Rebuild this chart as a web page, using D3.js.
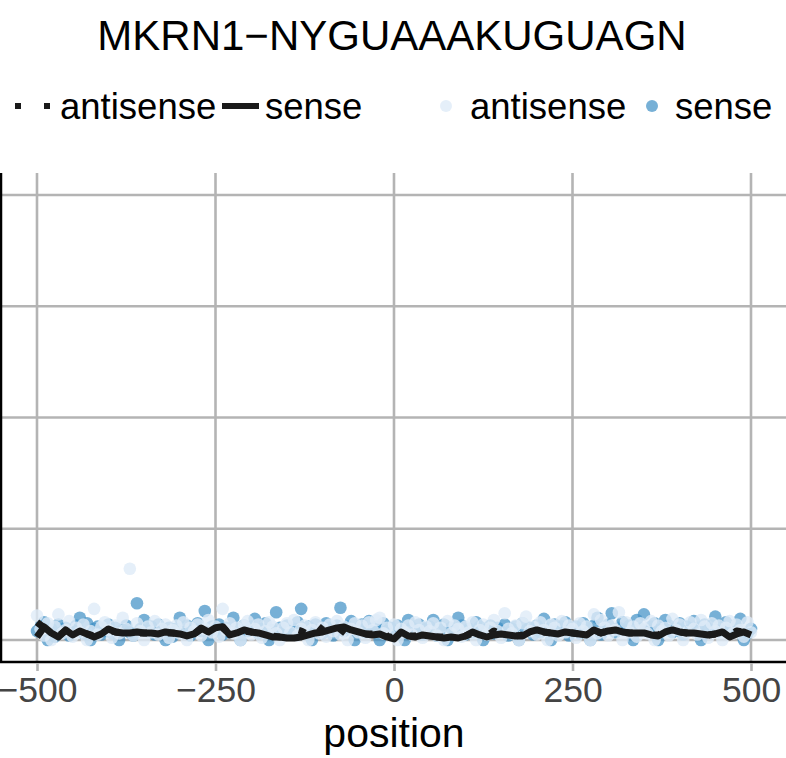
<!DOCTYPE html>
<html>
<head>
<meta charset="utf-8">
<script src="https://cdn.jsdelivr.net/npm/d3@7"></script>
<style>
  html, body { margin: 0; padding: 0; background: #ffffff; }
  svg { display: block; font-family: "Liberation Sans", Arial, Helvetica, sans-serif; }
</style>
</head>
<body>
<svg id="chart" width="786" height="758"></svg>
<script>
// ---- data ----
const title = "MKRN1\u2212NYGUAAAKUGUAGN";
const strands = ["antisense", "sense"];
const xTicks = [-500, -250, 0, 250, 500];
const yTicks = [0, 1, 2, 3, 4];

// per-position scores, positions -500..500 every 5 nt
const pointStep = 5;
const antisenseScores = [
  0.22, 0.10, 0.04, 0.15, 0.00, 0.12, 0.23, 0.06, 0.09, 0.17,
  0.03, 0.11, 0.07, 0.14, 0.00, 0.08, 0.28, 0.05, 0.12, 0.16,
  0.09, 0.02, 0.13, 0.06, 0.20, 0.10, 0.64, 0.04, 0.15, 0.08,
  0.00, 0.12, 0.07, 0.17, 0.05, 0.10, 0.14, 0.02, 0.09, 0.13,
  0.06, 0.16, 0.00, 0.11, 0.08, 0.14, 0.04, 0.10, 0.18, 0.07,
  0.12, 0.03, 0.28, 0.09, 0.15, 0.06, 0.11, 0.00, 0.13, 0.17,
  0.05, 0.10, 0.14, 0.02, 0.08, 0.16, 0.12, 0.06, 0.00, 0.11,
  0.15, 0.07, 0.18, 0.04, 0.10, 0.13, 0.00, 0.09, 0.16, 0.06,
  0.11, 0.03, 0.14, 0.08, 0.17, 0.05, 0.12, 0.00, 0.10, 0.15,
  0.07, 0.13, 0.02, 0.16, 0.09, 0.18, 0.20, 0.06, 0.11, 0.04,
  0.14, 0.00, 0.10, 0.07, 0.13, 0.05, 0.16, 0.09, 0.02, 0.12,
  0.08, 0.15, 0.04, 0.11, 0.00, 0.17, 0.06, 0.13, 0.10, 0.03,
  0.12, 0.07, 0.16, 0.00, 0.09, 0.14, 0.05, 0.11, 0.18, 0.08,
  0.02, 0.24, 0.10, 0.06, 0.13, 0.00, 0.15, 0.21, 0.08, 0.12,
  0.05, 0.16, 0.09, 0.00, 0.14, 0.11, 0.04, 0.17, 0.07, 0.13,
  0.10, 0.02, 0.15, 0.08, 0.12, 0.00, 0.23, 0.06, 0.18, 0.11,
  0.04, 0.13, 0.09, 0.25, 0.00, 0.16, 0.07, 0.12, 0.03, 0.15,
  0.10, 0.06, 0.17, 0.00, 0.13, 0.08, 0.11, 0.04, 0.19, 0.09,
  0.14, 0.00, 0.07, 0.16, 0.10, 0.05, 0.18, 0.12, 0.02, 0.15,
  0.08, 0.13, 0.00, 0.11, 0.17, 0.06, 0.14, 0.09, 0.03, 0.16,
  0.07
];
const senseScores = [
  0.08, 0.12, 0.16, 0.00, 0.10, 0.03, 0.14, 0.07, 0.11, 0.04,
  0.09, 0.13, 0.20, 0.06, 0.15, 0.00, 0.10, 0.12, 0.05, 0.08,
  0.14, 0.06, 0.11, 0.00, 0.09, 0.13, 0.07, 0.04, 0.33, 0.10,
  0.18, 0.08, 0.12, 0.05, 0.14, 0.09, 0.00, 0.11, 0.03, 0.10,
  0.20, 0.07, 0.13, 0.04, 0.10, 0.15, 0.08, 0.26, 0.00, 0.12,
  0.09, 0.14, 0.05, 0.11, 0.07, 0.20, 0.10, 0.00, 0.13, 0.08,
  0.12, 0.19, 0.06, 0.10, 0.15, 0.00, 0.09, 0.25, 0.11, 0.07,
  0.13, 0.05, 0.10, 0.16, 0.28, 0.08, 0.12, 0.00, 0.14, 0.09,
  0.06, 0.15, 0.11, 0.04, 0.13, 0.29, 0.08, 0.12, 0.17, 0.00,
  0.10, 0.14, 0.07, 0.17, 0.09, 0.12, 0.00, 0.15, 0.08, 0.11,
  0.06, 0.13, 0.09, 0.00, 0.18, 0.11, 0.07, 0.14, 0.05, 0.10,
  0.12, 0.18, 0.04, 0.09, 0.14, 0.00, 0.11, 0.08, 0.20, 0.13,
  0.05, 0.10, 0.07, 0.16, 0.12, 0.00, 0.09, 0.13, 0.06, 0.11,
  0.08, 0.14, 0.04, 0.10, 0.12, 0.00, 0.15, 0.09, 0.11, 0.05,
  0.13, 0.07, 0.19, 0.10, 0.00, 0.14, 0.08, 0.12, 0.16, 0.04,
  0.09, 0.12, 0.06, 0.15, 0.11, 0.00, 0.13, 0.20, 0.05, 0.10,
  0.14, 0.24, 0.07, 0.11, 0.16, 0.09, 0.13, 0.00, 0.18, 0.10,
  0.23, 0.08, 0.12, 0.15, 0.00, 0.10, 0.18, 0.13, 0.07, 0.11,
  0.15, 0.05, 0.12, 0.09, 0.17, 0.11, 0.00, 0.14, 0.10, 0.13,
  0.21, 0.08, 0.12, 0.16, 0.07, 0.11, 0.14, 0.19, 0.00, 0.06,
  0.10
];

// smoothed profile, positions -500..500 every 10 nt
const lineStep = 10;
const senseProfile = [
  0.027, 0.117, 0.063, 0.027, 0.090, 0.045, 0.081, 0.054, 0.027, 0.054,
  0.099, 0.072, 0.063, 0.063, 0.072, 0.063, 0.063, 0.054, 0.072, 0.063,
  0.054, 0.036, 0.054, 0.108, 0.072, 0.110, 0.120, 0.045, 0.063, 0.090,
  0.072, 0.063, 0.045, 0.027, 0.027, 0.018, 0.018, 0.027, 0.045, 0.063,
  0.072, 0.090, 0.108, 0.117, 0.090, 0.072, 0.054, 0.045, 0.054, 0.027,
  0.009, 0.072, 0.036, 0.027, 0.045, 0.036, 0.027, 0.018, 0.027, 0.018,
  0.036, 0.072, 0.045, 0.027, 0.045, 0.054, 0.045, 0.036, 0.036, 0.072,
  0.090, 0.072, 0.063, 0.054, 0.072, 0.063, 0.054, 0.045, 0.090, 0.063,
  0.081, 0.090, 0.072, 0.063, 0.063, 0.063, 0.045, 0.036, 0.072, 0.090,
  0.072, 0.063, 0.063, 0.054, 0.045, 0.054, 0.072, 0.027, 0.054, 0.072,
  0.045
];
const antisenseProfile = [
  0.160, 0.110, 0.063, 0.036, 0.081, 0.054, 0.072, 0.054, 0.036, 0.054,
  0.090, 0.072, 0.063, 0.072, 0.063, 0.063, 0.063, 0.054, 0.063, 0.063,
  0.054, 0.045, 0.054, 0.099, 0.072, 0.100, 0.110, 0.054, 0.063, 0.081,
  0.072, 0.063, 0.045, 0.036, 0.027, 0.045, 0.100, 0.081, 0.045, 0.144,
  0.090, 0.081, 0.018, 0.099, 0.090, 0.072, 0.054, 0.054, 0.126, 0.036,
  0.018, 0.063, 0.036, 0.036, 0.072, 0.036, 0.027, 0.027, 0.027, 0.018,
  0.036, 0.063, 0.045, 0.036, 0.081, 0.054, 0.045, 0.036, 0.045, 0.063,
  0.090, 0.072, 0.063, 0.063, 0.072, 0.063, 0.054, 0.054, 0.081, 0.063,
  0.081, 0.081, 0.072, 0.063, 0.063, 0.054, 0.045, 0.045, 0.072, 0.081,
  0.072, 0.063, 0.054, 0.054, 0.045, 0.054, 0.063, 0.036, 0.081, 0.072,
  0.054
];

// ---- styling ----
const pointColor = { antisense: "#deebf7", sense: "#4292c6" };
const pointOpacity = { antisense: 0.8, sense: 0.72 };
const gridColor = "#b4b4b4";
const dotDash = "7,21";

const svg = d3.select("#chart");
svg.append("rect").attr("width", 786).attr("height", 758).attr("fill", "#ffffff");

const panel = { left: 1, top: 173, right: 800, bottom: 662 };
const x = d3.scaleLinear().domain([-500, 500]).range([37, 751]);
const y = d3.scaleLinear().domain([0, 4]).range([640, 195]);

const toPoints = (arr, step, strand) =>
  arr.map((v, i) => ({ pos: -500 + i * step, value: v, strand }));

// sense first, antisense drawn over it
const allPts = toPoints(senseScores, pointStep, "sense")
  .concat(toPoints(antisenseScores, pointStep, "antisense"));

svg.append("defs").append("clipPath").attr("id", "panelClip")
  .append("rect")
  .attr("x", panel.left).attr("y", panel.top)
  .attr("width", panel.right - panel.left).attr("height", panel.bottom - panel.top);

// grid
const grid = svg.append("g");
grid.selectAll(".vgrid").data(xTicks).join("line")
  .attr("x1", d => x(d)).attr("x2", d => x(d))
  .attr("y1", panel.top).attr("y2", panel.bottom)
  .attr("stroke", gridColor).attr("stroke-width", 2.6);
grid.selectAll(".hgrid").data(yTicks).join("line")
  .attr("x1", panel.left).attr("x2", panel.right)
  .attr("y1", d => y(d)).attr("y2", d => y(d))
  .attr("stroke", gridColor).attr("stroke-width", 2.6);

const plot = svg.append("g").attr("clip-path", "url(#panelClip)");

// points
plot.selectAll("circle.pt").data(allPts).join("circle")
  .attr("class", "pt")
  .attr("cx", d => x(d.pos)).attr("cy", d => y(d.value))
  .attr("r", 6.3)
  .attr("fill", d => pointColor[d.strand])
  .attr("fill-opacity", d => pointOpacity[d.strand]);

// profile lines
const line = d3.line().x(d => x(d.pos)).y(d => y(d.value));
plot.append("path")
  .datum(toPoints(antisenseProfile, lineStep, "antisense"))
  .attr("d", line).attr("fill", "none")
  .attr("stroke", "#1a1a1a").attr("stroke-width", 7)
  .attr("stroke-dasharray", dotDash).attr("stroke-linejoin", "round");
plot.append("path")
  .datum(toPoints(senseProfile, lineStep, "sense"))
  .attr("d", line).attr("fill", "none")
  .attr("stroke", "#1a1a1a").attr("stroke-width", 7)
  .attr("stroke-linejoin", "round");

// axes
svg.append("line")
  .attr("x1", panel.left).attr("x2", panel.left)
  .attr("y1", panel.top).attr("y2", panel.bottom + 1)
  .attr("stroke", "#000").attr("stroke-width", 2.5);
svg.append("line")
  .attr("x1", 0).attr("x2", 786)
  .attr("y1", panel.bottom).attr("y2", panel.bottom)
  .attr("stroke", "#000").attr("stroke-width", 2.5);

const xAxis = d3.axisBottom(x).tickValues(xTicks).tickSize(8).tickPadding(5)
  .tickFormat(d => d < 0 ? "\u2212" + Math.abs(d) : String(d));
const gx = svg.append("g").attr("transform", `translate(0,${panel.bottom + 1})`).call(xAxis);
gx.select(".domain").remove();
gx.selectAll(".tick line").attr("stroke", gridColor).attr("stroke-width", 2.6);
gx.selectAll(".tick text")
  .attr("fill", "#444444").attr("font-size", 35.5)
  .attr("font-family", "Liberation Sans, Arial, sans-serif")
  .attr("dy", "0.74em");

svg.append("text")
  .attr("x", x(0)).attr("y", 747)
  .attr("text-anchor", "middle").attr("font-size", 41).attr("fill", "#000")
  .text("position");

// title
svg.append("text")
  .attr("x", 392).attr("y", 50)
  .attr("text-anchor", "middle").attr("font-size", 42).attr("fill", "#000")
  .text(title);

// legend: line types
const lg = svg.append("g");
const legY = 106;
lg.append("line").attr("x1", 15).attr("x2", 53).attr("y1", legY).attr("y2", legY)
  .attr("stroke", "#1a1a1a").attr("stroke-width", 6).attr("stroke-dasharray", "6,23");
lg.append("text").attr("x", 60).attr("y", 119).attr("font-size", 36.5).text(strands[0]);
lg.append("line").attr("x1", 222).attr("x2", 259).attr("y1", legY).attr("y2", legY)
  .attr("stroke", "#1a1a1a").attr("stroke-width", 6);
lg.append("text").attr("x", 265).attr("y", 119).attr("font-size", 36.5).text(strands[1]);

// legend: point colours
lg.append("circle").attr("cx", 446).attr("cy", legY).attr("r", 6)
  .attr("fill", pointColor.antisense).attr("fill-opacity", pointOpacity.antisense);
lg.append("text").attr("x", 470).attr("y", 119).attr("font-size", 36.5).text(strands[0]);
lg.append("circle").attr("cx", 652).attr("cy", legY).attr("r", 6)
  .attr("fill", pointColor.sense).attr("fill-opacity", pointOpacity.sense);
lg.append("text").attr("x", 675).attr("y", 119).attr("font-size", 36.5).text(strands[1]);
</script>
</body>
</html>
